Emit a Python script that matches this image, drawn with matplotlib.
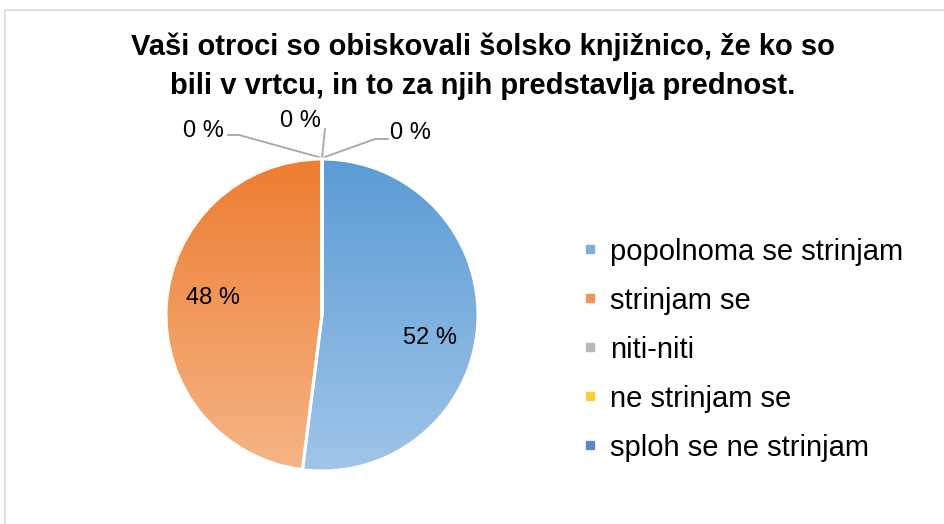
import numpy as np
import matplotlib
matplotlib.use("Agg")
import matplotlib.pyplot as plt
from matplotlib.colors import LinearSegmentedColormap
from matplotlib.lines import Line2D
from matplotlib.patches import Rectangle

plt.rcParams["font.family"] = ["Liberation Sans", "DejaVu Sans"]

title = "Vaši otroci so obiskovali šolsko knjižnico, že ko so\nbili v vrtcu, in to za njih predstavlja prednost."
categories = ["popolnoma se strinjam", "strinjam se", "niti-niti", "ne strinjam se", "sploh se ne strinjam"]
values = [52, 48, 0, 0, 0]

# top / bottom colours of the vertical gradient in each slice
grad_top = ["#5B9BD5", "#ED7D31", "#A5A5A5", "#FFC000", "#4472C4"]
grad_bot = ["#A0C5E8", "#F5B587", "#C9C9C9", "#FFD966", "#7F9FD9"]
legend_colors = ["#7DB0E0", "#F0955A", "#B7B7B7", "#FFCC33", "#5A86CC"]

W, H = 944, 524
cx, cy, R = 322, 315, 156  # pie centre / radius in pixels (from top)

fig = plt.figure(figsize=(W / 100, H / 100), dpi=100)
ax = fig.add_axes([0, 0, 1, 1])

# chart frame (runs off the right and bottom edges)
fig.patches.append(Rectangle((5 / W, -1), 2, 2 - 10 / H, transform=fig.transFigure,
                             fill=False, edgecolor="#D9D9D9", linewidth=1.2))

wedges, _ = ax.pie(values, startangle=90, counterclock=False, radius=1,
                   wedgeprops=dict(facecolor="none", edgecolor="white", linewidth=2.2, zorder=3))
ax.set_aspect("auto")
ax.axis("off")

grad = np.linspace(0, 1, 256).reshape(-1, 1)
for w, c0, c1, v in zip(wedges, grad_top, grad_bot, values):
    if v == 0:
        continue
    cmap = LinearSegmentedColormap.from_list("g", [c0, c1])
    im = ax.imshow(grad, cmap=cmap, extent=(-1, 1, -1, 1), origin="upper",
                   aspect="auto", zorder=2)
    im.set_clip_path(w)
ax.set_xlim(-cx / R, (W - cx) / R)
ax.set_ylim(-(H - cy) / R, cy / R)

# percentage labels for the non-zero slices
label_pos = [(-12, 0.71), (171, 0.71)]
for v, (ang, d) in zip(values[:2], label_pos):
    a = np.deg2rad(ang)
    ax.text(d * np.cos(a), d * np.sin(a), f"{v} %", ha="center", va="center", fontsize=17)

# zero-value labels with leader lines (pixel coordinates, from top)
def px(x, y):
    return (x - cx) / R, (cy - y) / R

zero_leaders = [
    [(322, 158), (239, 135), (228, 135)],
    [(322, 158), (325, 129)],
    [(322, 158), (375, 139), (388, 139)],
]
zero_text = [(203, 131), (300, 121), (410, 133)]
for v, pts, (tx, ty) in zip(values[2:], zero_leaders, zero_text):
    xs, ys = zip(*[px(*p) for p in pts])
    ax.plot(xs, ys, color="#A6A6A6", linewidth=1.3, zorder=1)
    ax.text(*px(tx, ty), f"{v} %", ha="center", va="center", fontsize=17)

fig.text(483 / W, 1 - 66 / H, title, ha="center", va="center", fontsize=21,
         fontweight="bold", linespacing=1.52)

handles = [Line2D([], [], marker="s", linestyle="none", markersize=6, color=c) for c in legend_colors]
fig.legend(handles, categories, loc="upper left", bbox_to_anchor=(571 / W, 1 - 226 / H),
           frameon=False, fontsize=21, handlelength=0.5, handletextpad=0.45,
           labelspacing=0.72, borderaxespad=0)

fig.savefig("out.png", dpi=100)
